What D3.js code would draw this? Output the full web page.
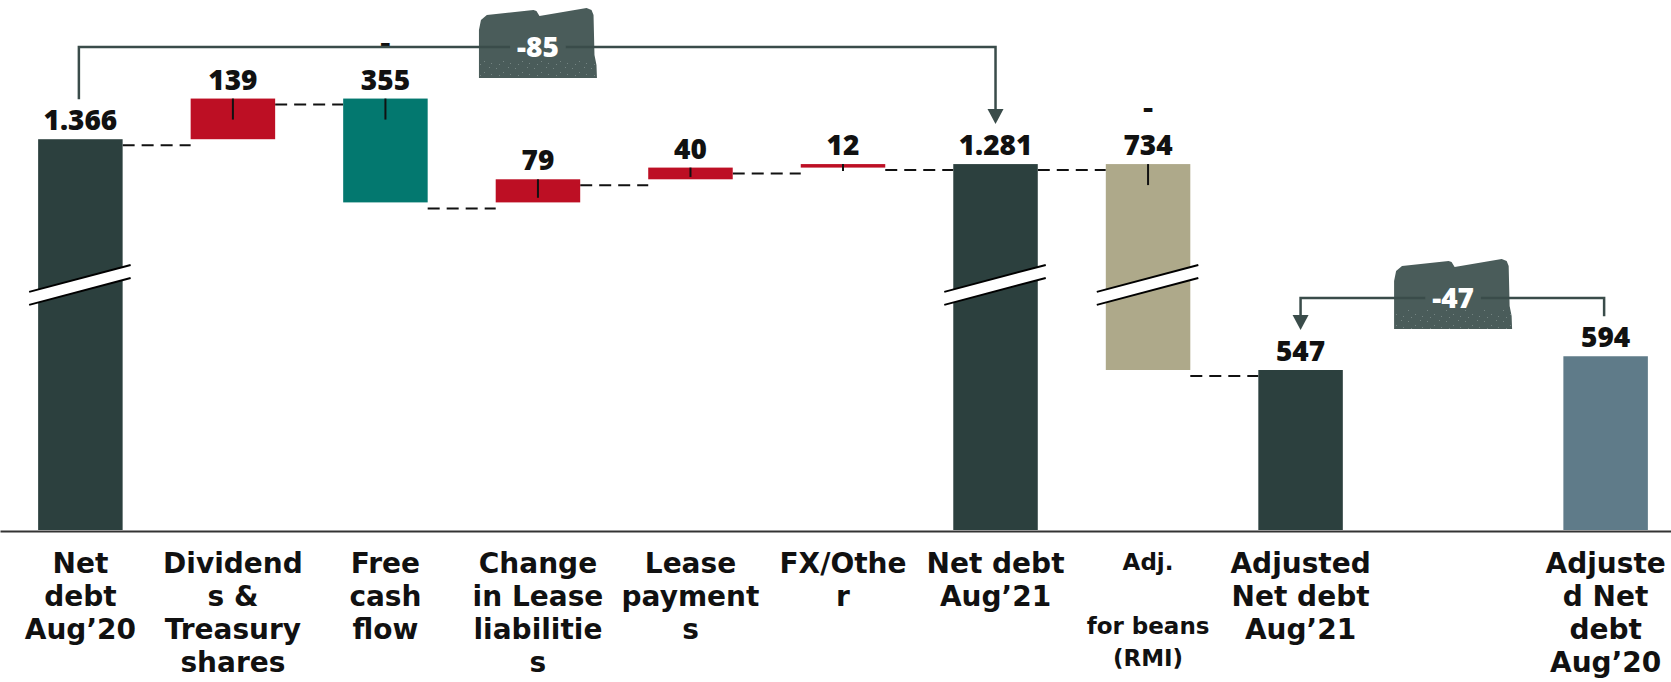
<!DOCTYPE html>
<html><head><meta charset="utf-8">
<script src="https://cdn.jsdelivr.net/npm/d3@7"></script>
<style>
body{margin:0;background:#fff;}
svg{display:block;font-family:'Open Sans',sans-serif;}
</style>
</head><body>
<svg id="chart" width="1671" height="682"></svg>
<script>
// ---------- data ----------
const categories = ["Net debt Aug’20","Dividends & Treasury shares","Free cash flow","Change in Lease liabilities","Lease payments","FX/Other","Net debt Aug’21","Adj. for beans (RMI)","Adjusted Net debt Aug’21","","Adjusted Net debt Aug’20"];
const categoryLines = [["Net","debt","Aug’20"],["Dividend","s &","Treasury","shares"],["Free","cash","flow"],["Change","in Lease","liabilitie","s"],["Lease","payment","s"],["FX/Othe","r"],["Net debt","Aug’21"],["Adj.","","for beans","(RMI)"],["Adjusted","Net debt","Aug’21"],[],["Adjuste","d Net","debt","Aug’20"]];
const values = [1366, 139, -355, 79, 40, 12, 1281, -734, 547, null, 594];
const kinds = ["total","delta","delta","delta","delta","delta","total","delta","total","none","standalone"];
const valueLabels = ["1.366","139","355","79","40","12","1.281","734","547","","594"];
const bracketPairs = [[0,6],[10,8]]; // from -> to (arrow at "to")
const axisBreak = [835, 865];

// ---------- styles ----------
const barColors = ["#2c403e","#bd0f24","#03786f","#bd0f24","#bd0f24","#bd0f24","#2c403e","#aea98a","#2c403e",null,"#5f7b89"];
const baseY = 530, pxPerUnit = 0.2925;
const bracketY = [47, 298];
const catFont = "'DejaVu Sans',sans-serif";

const svg = d3.select("#chart");

const x = d3.scaleBand().domain(d3.range(categories.length)).range([0, 1686]).paddingInner(0.446).paddingOuter(0.25);
const gapU = axisBreak[1]-axisBreak[0];
const yb = baseY - pxPerUnit*axisBreak[0];
const y = d3.scaleLinear()
  .domain([0, axisBreak[0], axisBreak[1], 1600])
  .range([baseY, yb, yb, baseY - pxPerUnit*(1600-gapU)]);

// waterfall computation
let run = 0;
const bars = [];
values.forEach((v,i)=>{
  const k = kinds[i];
  if (k==="none") return;
  if (k==="total"){ bars.push({i, a:0, b:v, end:v, k}); run=v; }
  else if (k==="delta"){ bars.push({i, a:run, b:run+v, end:run+v, k}); run+=v; }
  else bars.push({i, a:0, b:v, end:v, k});
});
bars.forEach(d=>{ d.top=Math.max(d.a,d.b); d.bot=Math.min(d.a,d.b); });
const byIdx = {}; bars.forEach(d=>byIdx[d.i]=d);
const bw = x.bandwidth();
const cx = i => x(i)+bw/2;

// dashed connectors
const conn = [];
for (let n=0;n<bars.length-1;n++){
  const d=bars[n], e=bars[n+1];
  if (e.i!==d.i+1 || e.k==="standalone") continue;
  conn.push({x1:x(d.i)+bw, x2:x(e.i), v:d.end});
}
svg.append("g").selectAll("line").data(conn).join("line")
  .attr("x1",d=>d.x1).attr("x2",d=>d.x2)
  .attr("y1",d=>y(d.v)+6).attr("y2",d=>y(d.v)+6)
  .attr("stroke","#111").attr("stroke-width",2).attr("stroke-dasharray","12,7");

// bars
svg.append("g").selectAll("rect").data(bars).join("rect")
  .attr("x",d=>x(d.i)).attr("width",bw)
  .attr("y",d=>y(d.top)).attr("height",d=>y(d.bot)-y(d.top))
  .attr("fill",d=>barColors[d.i]);

// tick marks inside delta bars
svg.append("g").selectAll("line").data(bars.filter(d=>d.k==="delta")).join("line")
  .attr("x1",d=>cx(d.i)).attr("x2",d=>cx(d.i))
  .attr("y1",d=>y(d.top))
  .attr("y2",d=>{const h=y(d.bot)-y(d.top); return y(d.top)+Math.max(7,Math.min(21,h*0.8));})
  .attr("stroke","#111").attr("stroke-width",2);

// axis break marks
const slope = -0.265;
const brk = svg.append("g");
bars.filter(d=>d.top>axisBreak[1] && d.bot<axisBreak[0]).forEach(d=>{
  const xl = x(d.i)-9, xr = x(d.i)+bw+8, c = cx(d.i), yc = y(axisBreak[0])-1;
  const yy = (xx,off)=> yc+off+slope*(xx-c);
  brk.append("path")
    .attr("d",`M${xl},${yy(xl,-6.5)}L${xr},${yy(xr,-6.5)}L${xr},${yy(xr,6.5)}L${xl},${yy(xl,6.5)}Z`)
    .attr("fill","#fff");
  [-6.5,6.5].forEach(o=>brk.append("line")
    .attr("x1",xl).attr("y1",yy(xl,o)).attr("x2",xr).attr("y2",yy(xr,o))
    .attr("stroke","#000").attr("stroke-width",2));
});

// value labels
const labelGap = 9;
const lab = svg.append("g").attr("fill","#111").attr("text-anchor","middle");
bars.forEach(d=>{
  const by = y(d.top)-labelGap;
  d.labelTop = by-20;
  lab.append("text").attr("x",cx(d.i)).attr("y",by)
    .attr("font-size",28).attr("font-weight",800).text(valueLabels[d.i]);
  if (values[d.i] < 0) lab.append("text").attr("x",cx(d.i)).attr("y",by-37)
    .attr("font-family",catFont).attr("font-size",28).attr("font-weight",700).text("-");
});

// callout shape
const shapePts = [[0,1],[0,0.314],[0.017,0.171],[0.067,0.1],[0.462,0.029],[0.487,0.043],[0.513,0.114],[0.912,0],[0.954,0.029],[0.971,0.1],[0.979,0.671],[0.996,0.814],[1,1]];
const defs = svg.append("defs");
const pat = defs.append("pattern").attr("id","speck").attr("width",19).attr("height",11).attr("patternUnits","userSpaceOnUse");
[[2,2],[9,6],[14,1],[5,9],[16,8]].forEach(p=>pat.append("rect").attr("x",p[0]).attr("y",p[1]).attr("width",1).attr("height",1).attr("fill","#b4bfbd"));

const ann = svg.append("g");
bracketPairs.forEach((pair,k)=>{
  const [fi,ti] = pair;
  const from = byIdx[fi], to = byIdx[ti];
  const ly = bracketY[k];
  const xf = cx(fi)-1.5, xt = cx(ti);
  const diff = to.end - from.end;
  const mid = (cx(fi)+cx(ti))/2;
  const bwid = 118, bh = 70;
  const bx0 = mid - bwid/2, by0 = ly-39;
  const pts = shapePts.map(p=>[bx0+p[0]*bwid, by0+p[1]*bh]);
  const pathD = d3.line()(pts)+"Z";
  defs.append("clipPath").attr("id","clipc"+k).append("path").attr("d",pathD);
  ann.append("path").attr("d",pathD).attr("fill","#4a5c5a");
  ann.append("rect").attr("x",bx0).attr("y",ly+12).attr("width",bwid).attr("height",bh)
    .attr("fill","url(#speck)").attr("clip-path",`url(#clipc${k})`).attr("opacity",0.4);
  const t = ann.append("text").attr("x",mid).attr("y",ly+10).attr("text-anchor","middle")
    .attr("font-size",28).attr("font-weight",800).attr("fill","#fff").text(String(diff));
  const tw = t.node().getComputedTextLength();
  const g1 = mid - tw/2 - 7, g2 = mid + tw/2 + 7;
  const fromEnd = from.labelTop - 11, tip = to.labelTop - 11, ah = 15, aw = 8;
  const lc = "#3a4c4a";
  ann.append("path").attr("fill","none").attr("stroke",lc).attr("stroke-width",2.5)
    .attr("d",`M${xf},${fromEnd}V${ly}H${xf<xt?g1:g2}M${xf<xt?g2:g1},${ly}H${xt}V${tip-ah+1}`);
  ann.append("path").attr("fill",lc)
    .attr("d",`M${xt-aw},${tip-ah}L${xt+aw},${tip-ah}L${xt},${tip}Z`);
});

// axis with category labels
const axG = svg.append("g").attr("transform",`translate(0,${baseY+1})`)
  .call(d3.axisBottom(x).tickSize(0).tickSizeOuter(0).tickFormat(()=>""));
axG.select(".domain").attr("stroke","#333").attr("stroke-width",2);
axG.selectAll(".tick text").remove();
axG.selectAll(".tick").each(function(i){
  const lines = categoryLines[i];
  const small = i===7;
  const g = d3.select(this);
  lines.forEach((ln,j)=>{
    if (!ln) return;
    g.append("text").attr("text-anchor","middle").attr("fill","#111")
      .attr("font-family",catFont).attr("font-weight",700)
      .attr("font-size", small?23:28)
      .attr("x",0).attr("y",(small?39:42)+j*(small?32:33)).text(ln);
  });
});
</script>
</body></html>
